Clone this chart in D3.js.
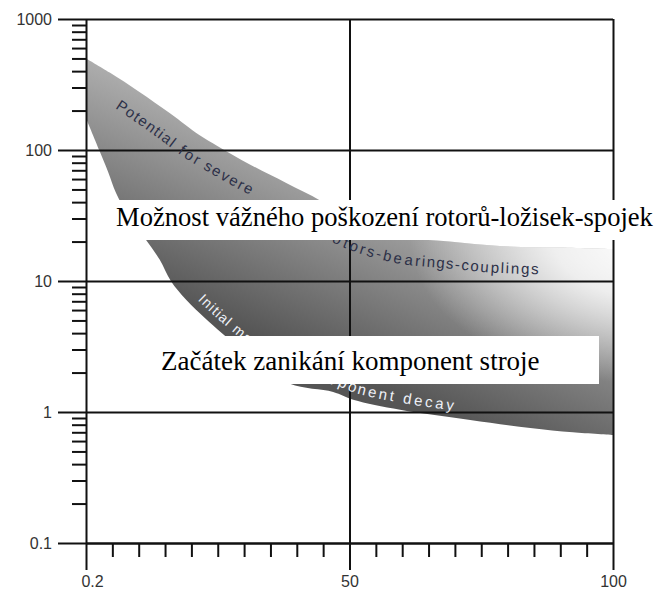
<!DOCTYPE html>
<html><head><meta charset="utf-8">
<script src="https://cdn.jsdelivr.net/npm/d3@7"></script>
<style>body{margin:0;background:#fff}svg{display:block}</style>
</head><body>
<svg id="c" width="657" height="595"></svg>
<script>
// ---- data ----
const yMajor = [0.1, 1, 10, 100, 1000];
const yMajorLabels = ["0.1", "1", "10", "100", "1000"];
const xMajor = [0, 50, 100];
const xMajorLabels = ["0.2", "50", "100"];
const xMinor = [5, 10, 15, 20, 25, 30, 35, 40, 45, 55, 60, 65, 70, 75, 80, 85, 90, 95];
const xGrid = [50, 100];
const upperX = [0, 4.5, 10, 16, 21.5, 25, 31, 38, 44.5, 50, 59.5, 69, 78.5, 90, 100];
const upperY = [500, 390, 280, 190, 130, 107, 78, 56, 41, 29, 22, 20, 18.5, 18, 17.5];
const lowerX = [0, 2.5, 4.2, 5.7, 8.3, 11.4, 14, 16.1, 19, 22.6, 25.8, 32, 38.7, 46.9, 50.7, 59.6, 72.9, 84.3, 92.4, 100];
const lowerY = [175, 100, 68, 47, 30, 20.6, 14.5, 10, 7.2, 5.2, 4.0, 2.5, 1.64, 1.42, 1.24, 1.04, 0.87, 0.755, 0.70, 0.667];
const upperLabel1 = "Potential for severe";
const upperLabel2 = "rotors-bearings-couplings";
const lowerLabel1 = "Initial machine";
const lowerLabel2 = "component decay";
const box1Text = "Možnost vážného poškození rotorů-ložisek-spojek";
const box2Text = "Začátek zanikání komponent stroje";

// ---- layout ----
const L = 86, R = 613, T = 19, B = 543;
const svg = d3.select("#c");
const x = d3.scaleLinear().domain([0, 100]).range([L, R]);
const y = d3.scaleLog().domain([0.1, 1000]).range([B, T]);

const defs = svg.append("defs");
const lg = defs.append("linearGradient").attr("id", "bandGrad")
  .attr("gradientUnits", "userSpaceOnUse")
  .attr("x1", 397).attr("y1", 396).attr("x2", 473).attr("y2", 217);
lg.append("stop").attr("offset", 0).attr("stop-color", "#555555");
lg.append("stop").attr("offset", 1).attr("stop-color", "#b0b0b0");
const rg = defs.append("radialGradient").attr("id", "fadeGrad")
  .attr("gradientUnits", "userSpaceOnUse")
  .attr("cx", 650).attr("cy", 240).attr("r", 240)
  .attr("gradientTransform", "translate(650,240) scale(1,0.6) translate(-650,-240)");
rg.append("stop").attr("offset", 0).attr("stop-color", "#fff").attr("stop-opacity", 1);
rg.append("stop").attr("offset", 0.4).attr("stop-color", "#fff").attr("stop-opacity", 0.8);
rg.append("stop").attr("offset", 1).attr("stop-color", "#fff").attr("stop-opacity", 0);
defs.append("clipPath").attr("id", "plotClip").append("rect")
  .attr("x", L).attr("y", T).attr("width", R - L).attr("height", B - T);

const upper = upperX.map((v, i) => [v, upperY[i]]);
const lower = lowerX.map((v, i) => [v, lowerY[i]]);
const line = d3.line().x(d => x(d[0])).y(d => y(d[1])).curve(d3.curveCatmullRom.alpha(0.5));
const bandD = line(upper) + "L" + line(lower.slice().reverse()).slice(1) + "Z";

const plot = svg.append("g").attr("clip-path", "url(#plotClip)");
plot.append("path").attr("d", bandD).attr("fill", "url(#bandGrad)");
plot.append("path").attr("d", bandD).attr("fill", "url(#fadeGrad)");

const upperPath = defs.append("path").attr("id", "upperEdge").attr("d", line(upper));
const lowerPath = defs.append("path").attr("id", "lowerEdge").attr("d", line(lower));

// ---- axes and grid ----
function styleAxis(g) {
  g.selectAll("line,path").attr("stroke", "#111").attr("stroke-width", 2);
  g.selectAll("text").attr("fill", "#333").attr("font-family", "Liberation Sans, Arial, sans-serif").attr("font-size", 16);
}
svg.append("g").attr("transform", `translate(${L},0)`)
  .call(d3.axisRight(y).tickValues(yMajor).tickSize(R - L).tickFormat(""))
  .call(g => g.select(".domain").remove()).call(styleAxis);
svg.append("g").attr("transform", `translate(0,${B})`)
  .call(d3.axisTop(x).tickValues(xGrid).tickSize(B - T).tickFormat(""))
  .call(g => g.select(".domain").remove()).call(styleAxis);
svg.append("g").attr("transform", `translate(${L},0)`)
  .call(d3.axisLeft(y).tickValues(y.ticks().filter(v => !yMajor.includes(v))).tickSize(14).tickFormat(""))
  .call(g => g.select(".domain").remove()).call(styleAxis);
svg.append("g").attr("transform", `translate(${L},0)`)
  .call(d3.axisLeft(y).tickValues(yMajor).tickSize(28).tickSizeOuter(0).tickPadding(6)
    .tickFormat(d => yMajorLabels[yMajor.indexOf(d)]))
  .call(styleAxis);
svg.append("g").attr("transform", `translate(0,${B})`)
  .call(d3.axisBottom(x).tickValues(xMinor).tickSize(14).tickFormat(""))
  .call(g => g.select(".domain").remove()).call(styleAxis);
svg.append("g").attr("transform", `translate(0,${B})`)
  .call(d3.axisBottom(x).tickValues(xMajor).tickSize(27).tickSizeOuter(0).tickPadding(6)
    .tickFormat(d => xMajorLabels[xMajor.indexOf(d)]))
  .call(styleAxis)
  .call(g => g.selectAll(".tick text").filter(d => d === 0).attr("dx", 6));

// ---- curved labels ----
function lenAtX(node, px) {
  let lo = 0, hi = node.getTotalLength();
  for (let k = 0; k < 40; k++) { const m = (lo + hi) / 2; if (node.getPointAtLength(m).x < px) lo = m; else hi = m; }
  return lo;
}
const up = upperPath.node(), lo = lowerPath.node();
const labelG = svg.append("g").attr("clip-path", "url(#plotClip)")
  .attr("font-family", "Liberation Sans, Arial, sans-serif");
const t1 = labelG.append("text").attr("dy", 27).attr("font-size", 15).attr("letter-spacing", 1.5).attr("fill", "#2c3048");
t1.append("textPath").attr("href", "#upperEdge").attr("startOffset", lenAtX(up, 130)).text(upperLabel1);
const t2 = labelG.append("text").attr("dy", 27).attr("font-size", 15).attr("letter-spacing", 1.5).attr("fill", "#2c3048");
t2.append("textPath").attr("href", "#upperEdge").attr("startOffset", lenAtX(up, 355) - 19).text(upperLabel2);
const t3 = labelG.append("text").attr("dy", -8).attr("font-size", 14).attr("letter-spacing", 1.2).attr("fill", "#eef1f8");
t3.append("textPath").attr("href", "#lowerEdge").attr("startOffset", lenAtX(lo, 192)).text(lowerLabel1);
const t4 = labelG.append("text").attr("dy", -7).attr("font-size", 15).attr("letter-spacing", 2.8).attr("fill", "#eef1f8");
t4.append("textPath").attr("href", "#lowerEdge").attr("startOffset", lenAtX(lo, 298)).text(lowerLabel2);

// ---- white caption boxes ----
svg.append("rect").attr("x", 100).attr("y", 200).attr("width", 557).attr("height", 40).attr("fill", "#fff");
svg.append("text").attr("x", 116).attr("y", 226).attr("font-family", "Liberation Serif, Times New Roman, serif")
  .attr("font-size", 26.6).attr("fill", "#000").text(box1Text);
svg.append("rect").attr("x", 150).attr("y", 336).attr("width", 449).attr("height", 48).attr("fill", "#fff");
svg.append("text").attr("x", 161).attr("y", 370).attr("font-family", "Liberation Serif, Times New Roman, serif")
  .attr("font-size", 27).attr("fill", "#000").text(box2Text);
</script>
</body></html>
